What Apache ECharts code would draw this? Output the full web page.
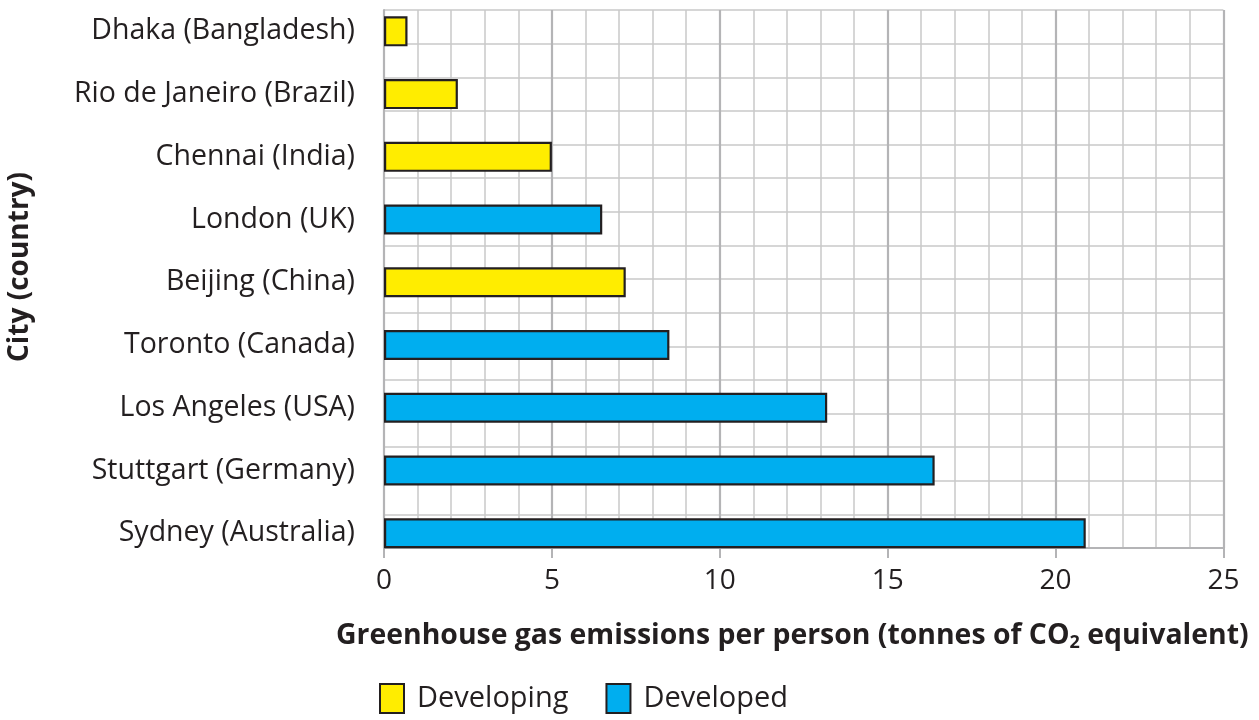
<!DOCTYPE html>
<html>
<head>
<meta charset="utf-8">
<script src="https://cdn.jsdelivr.net/npm/echarts@6/dist/echarts.min.js"></script>
<style>html,body{margin:0;padding:0;background:#fff;}#c{width:1259px;height:720px;}</style>
</head>
<body>
<div id="c"></div>
<script>
// Data (bottom to top as drawn on the category axis)
const cities = ["Sydney (Australia)", "Stuttgart (Germany)", "Los Angeles (USA)", "Toronto (Canada)", "Beijing (China)", "London (UK)", "Chennai (India)", "Rio de Janeiro (Brazil)", "Dhaka (Bangladesh)"];
const emissions = [20.9, 16.4, 13.2, 8.5, 7.2, 6.5, 5.0, 2.2, 0.7];
const status = ["Developed", "Developed", "Developed", "Developed", "Developing", "Developed", "Developing", "Developing", "Developing"];
const xTicks = [0, 5, 10, 15, 20, 25];

const FONT = "Open Sans";
const TXT = "#231f20";
const devData = emissions.map((v, i) => status[i] === "Developing" ? v : "-");
const dvdData = emissions.map((v, i) => status[i] === "Developed" ? v : "-");

const chart = echarts.init(document.getElementById('c'), null, {renderer: 'canvas'});
const L = 384, R = 1259 - 1223.4;
chart.setOption({
  animation: false,
  backgroundColor: '#fff',
  textStyle: {fontFamily: FONT},
  grid: [
    {left: L, right: R, top: 10, bottom: 172},
    {left: L, right: R, top: -3.9, bottom: 155.4}
  ],
  xAxis: [
    {gridIndex: 0, type: 'value', min: 0, max: 25, interval: 1, position: 'top',
     axisLine: {show: false}, axisTick: {show: false}, axisLabel: {show: false},
     splitLine: {show: true, lineStyle: {color: '#c8c8c8', width: 1.5}}},
    {gridIndex: 0, type: 'value', min: xTicks[0], max: xTicks[xTicks.length - 1], interval: 5, position: 'bottom',
     axisLine: {show: true, lineStyle: {color: '#b4b4b6', width: 2}},
     axisTick: {show: true, length: 10, lineStyle: {color: '#b4b4b6', width: 2}},
     axisLabel: {show: true, fontSize: 28, color: TXT, fontFamily: FONT, margin: 19},
     splitLine: {show: true, lineStyle: {color: '#b4b4b6', width: 2.2}}},
    {gridIndex: 1, type: 'value', min: 0, max: 25, show: false}
  ],
  yAxis: [
    {gridIndex: 0, type: 'value', min: 0, max: 16, interval: 1,
     axisLine: {show: true, lineStyle: {color: '#b4b4b6', width: 2}},
     axisTick: {show: false}, axisLabel: {show: false},
     splitLine: {show: true, lineStyle: {color: '#c8c8c8', width: 1.5}}},
    {gridIndex: 1, type: 'category', data: cities,
     axisLine: {show: false}, axisTick: {show: false},
     axisLabel: {fontSize: 28.5, color: TXT, fontFamily: FONT, margin: 29},
     splitLine: {show: false}}
  ],
  legend: {
    left: 379, top: 683, padding: 0, itemGap: 37, itemWidth: 24, itemHeight: 29,
    icon: 'rect',
    itemStyle: {borderColor: '#231f20', borderWidth: 2},
    textStyle: {fontSize: 29, color: TXT, fontFamily: FONT, padding: [0, 0, 0, 8]},
    data: ['Developing', 'Developed']
  },
  graphic: [
    {type: 'text', left: 336, top: 622,
     style: {rich: {
        b: {fontSize: 28.4, fontWeight: 'bold', fontFamily: FONT, fill: TXT},
        s: {fontSize: 18, fontWeight: 'bold', fontFamily: FONT, fill: TXT, padding: [14, 0, 0, 0]}
      },
      text: '{b|Greenhouse gas emissions per person (tonnes of CO}{s|2}{b| equivalent)}'}},
    {type: 'text', x: 20, y: 267, rotation: Math.PI / 2,
     style: {text: 'City (country)', fontSize: 28, fontWeight: 'bold', fontFamily: FONT, fill: TXT,
             align: 'center', verticalAlign: 'middle'}}
  ],
  series: [
    {name: 'Developing', type: 'bar', xAxisIndex: 2, yAxisIndex: 1, data: devData,
     barWidth: 30, barGap: '-100%',
     itemStyle: {color: '#ffed00', borderColor: '#231f20', borderWidth: 2.2}},
    {name: 'Developed', type: 'bar', xAxisIndex: 2, yAxisIndex: 1, data: dvdData,
     barWidth: 30, barGap: '-100%',
     itemStyle: {color: '#00aeef', borderColor: '#231f20', borderWidth: 2.2}}
  ]
});
</script>
</body>
</html>
